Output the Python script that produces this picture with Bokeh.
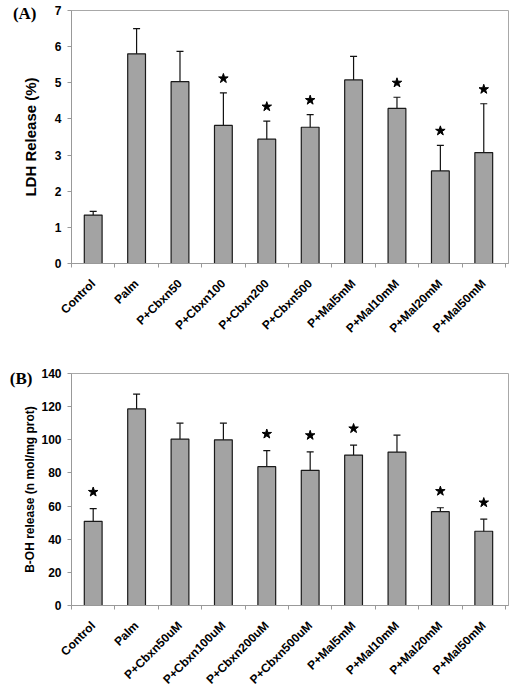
import math
from bokeh.plotting import figure
from bokeh.layouts import column
from bokeh.models import (ColumnDataSource, Range1d, FixedTicker, Whisker, TeeHead, LinearAxis)
from bokeh.embed import file_html
from bokeh.resources import INLINE

# Panel A data
cats_a = ["Control", "Palm", "P+Cbxn50", "P+Cbxn100", "P+Cbxn200", "P+Cbxn500",
          "P+Mal5mM", "P+Mal10mM", "P+Mal20mM", "P+Mal50mM"]
ldh = [1.34, 5.80, 5.03, 3.82, 3.44, 3.77, 5.08, 4.29, 2.56, 3.07]
ldh_err = [0.10, 0.70, 0.84, 0.90, 0.50, 0.35, 0.65, 0.31, 0.71, 1.35]
ldh_sig = [0, 0, 0, 1, 1, 1, 0, 1, 1, 1]

# Panel B data
cats_b = ["Control", "Palm", "P+Cbxn50uM", "P+Cbxn100uM", "P+Cbxn200uM", "P+Cbxn500uM",
          "P+Mal5mM", "P+Mal10mM", "P+Mal20mM", "P+Mal50mM"]
boh = [50.8, 118.6, 100.4, 100.0, 83.8, 81.6, 90.8, 92.6, 56.6, 44.8]
boh_err = [7.7, 9.0, 9.6, 10.0, 9.7, 11.1, 6.0, 10.2, 2.4, 7.3]
boh_sig = [1, 0, 0, 0, 1, 1, 1, 0, 1, 1]

FONT = "Liberation Sans"


def panel(cats, vals, errs, sig, ymax, ystep, ylabel, ylabel_size, ylabel_standoff, tag,
          tag_pos, tag_standoff, height, mb_left, mb_top, mb_bottom, star_pad):
    n = len(cats)
    xs = list(range(1, n + 1))
    p = figure(width=512, height=height, output_backend="svg", toolbar_location=None,
               x_range=Range1d(0.5, n + 0.57), y_range=Range1d(0, ymax),
               min_border_left=mb_left, min_border_right=4, min_border_top=mb_top,
               min_border_bottom=mb_bottom)
    p.xgrid.visible = False
    p.ygrid.visible = False
    p.outline_line_color = "#a8a8a8"
    p.outline_line_width = 1
    p.background_fill_color = "white"
    p.border_fill_color = "white"

    src = ColumnDataSource(dict(x=xs, top=vals, upper=[v + e for v, e in zip(vals, errs)],
                                lower=[v - e for v, e in zip(vals, errs)]))
    p.vbar(x="x", top="top", width=0.41, bottom=0, source=src,
           fill_color="#a3a3a3", line_color="#1a1a1a", line_width=1.2)
    w = Whisker(base="x", upper="upper", lower="lower", source=src,
                line_color="#111111", line_width=1.2,
                upper_head=TeeHead(size=7, line_color="#111111", line_width=1.2),
                lower_head=TeeHead(size=7, line_color="#111111", line_width=1.2))
    p.add_layout(w)

    sx = [x for x, s in zip(xs, sig) if s]
    sy = [v + e + star_pad for v, e, s in zip(vals, errs, sig) if s]
    p.scatter(sx, sy, marker="star", size=10, fill_color="black", line_color="black")

    # x axis: labels at centres, small ticks at category boundaries
    p.xaxis.ticker = FixedTicker(ticks=xs, minor_ticks=[x + 0.5 for x in range(0, n + 1)])
    p.xaxis.major_label_overrides = {x: c for x, c in zip(xs, cats)}
    p.xaxis.major_label_orientation = math.pi / 4
    p.xaxis.major_tick_out = 0
    p.xaxis.major_tick_in = 0
    p.xaxis.minor_tick_out = 4
    p.xaxis.minor_tick_in = 0
    p.xaxis.minor_tick_line_color = "#999999"
    p.xaxis.axis_line_color = "#999999"
    p.xaxis.major_label_text_font = FONT
    p.xaxis.major_label_text_font_style = "bold"
    p.xaxis.major_label_text_font_size = "12px"
    p.xaxis.major_label_text_color = "black"
    p.xaxis.major_label_standoff = 14

    p.yaxis.ticker = FixedTicker(ticks=list(range(0, ymax + 1, ystep)))
    p.yaxis.minor_tick_line_color = None
    p.yaxis.major_tick_out = 4
    p.yaxis.major_tick_in = 0
    p.yaxis.major_tick_line_color = "#999999"
    p.yaxis.axis_line_color = "#999999"
    p.yaxis.major_label_text_font = FONT
    p.yaxis.major_label_text_font_style = "bold"
    p.yaxis.major_label_text_font_size = "12px"
    p.yaxis.major_label_text_color = "black"
    p.yaxis.major_label_standoff = 6
    p.yaxis.axis_label = ylabel
    p.yaxis.axis_label_text_font = FONT
    p.yaxis.axis_label_text_font_style = "bold"
    p.yaxis.axis_label_text_font_size = ylabel_size
    p.yaxis.axis_label_text_color = "black"
    p.yaxis.axis_label_standoff = ylabel_standoff

    # panel tag "(A)"/"(B)" drawn as the single label of an outer, line-less left axis
    p.extra_y_ranges = {"tag": Range1d(0, 1)}
    tag_axis = LinearAxis(y_range_name="tag", ticker=FixedTicker(ticks=[tag_pos]),
                          major_label_overrides={tag_pos: tag})
    tag_axis.axis_line_color = None
    tag_axis.major_tick_line_color = None
    tag_axis.minor_tick_line_color = None
    tag_axis.major_tick_out = 0
    tag_axis.major_tick_in = 0
    tag_axis.major_label_standoff = tag_standoff
    tag_axis.major_label_text_font = "Liberation Serif"
    tag_axis.major_label_text_font_style = "bold"
    tag_axis.major_label_text_font_size = "17px"
    tag_axis.major_label_text_color = "black"
    p.add_layout(tag_axis, "left")
    return p


pa = panel(cats_a, ldh, ldh_err, ldh_sig, 7, 1, "LDH Release (%)", "15px", 13, "(A)",
           0.988, -18, 343, 67, 10, 78, 0.4)
pb = panel(cats_b, boh, boh_err, boh_sig, 140, 20, "B-OH release (n mol/mg prot)", "12px", 1,
           "(B)", 0.98, -12, 351, 71, 30, 88, 10)

layout = column(pa, pb)
open("out.html", "w").write(file_html(layout, INLINE))
